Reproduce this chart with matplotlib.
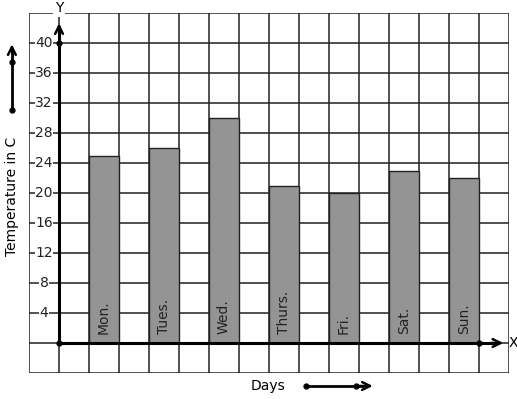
import matplotlib
matplotlib.use("Agg")
import matplotlib.pyplot as plt

days = ["Mon.", "Tues.", "Wed.", "Thurs.", "Fri.", "Sat.", "Sun."]
temps = [25, 26, 30, 21, 20, 23, 22]
yticks = [4, 8, 12, 16, 20, 24, 28, 32, 36, 40]

fig = plt.figure(figsize=(5.17, 3.99), dpi=100)
ax = fig.add_axes([29 / 517, 26 / 399, 480 / 517, 360 / 399])
ax.set_xlim(-1, 15)
ax.set_ylim(-4, 44)
ax.axis("off")

# graph paper grid
grid_kw = dict(color="#222222", lw=1.1, zorder=1)
for gx in range(-1, 16):
    ax.plot([gx, gx], [-4, 44], **grid_kw)
for gy in range(-4, 45, 4):
    ax.plot([-1, 15], [gy, gy], **grid_kw)

# bars: one every other cell
xs = [1 + 2 * i for i in range(len(days))]
ax.bar(xs, temps, width=1, align="edge", color="#949494",
       edgecolor="#222222", lw=1, zorder=2)
for x, d in zip(xs, days):
    ax.text(x + 0.5, 1.2, d, rotation=90, ha="center", va="bottom",
            fontsize=10, color="#222222", zorder=3)

# axes with arrows
ax.plot([0, 0], [0, 42.2], color="black", lw=2.2, zorder=4)
ax.plot([0, 14.6], [0, 0], color="black", lw=2.2, zorder=4)
ax.annotate("", xy=(0, 43), xytext=(0, 41), zorder=5,
            arrowprops=dict(arrowstyle="->", lw=1.8, color="black",
                            mutation_scale=14))
ax.annotate("", xy=(14.9, 0), xytext=(14.3, 0), zorder=5,
            arrowprops=dict(arrowstyle="->", lw=1.8, color="black",
                            mutation_scale=14))
ax.plot([0, 0, 14], [0, 40, 0], "o", color="black", ms=3.5, zorder=6)
ax.text(15.15, 0, "X", ha="center", va="center", fontsize=10, clip_on=False)
ax.text(0, 44.6, "Y", ha="center", va="center", fontsize=10, clip_on=False,
        bbox=dict(facecolor="white", edgecolor="none", pad=1), zorder=6)

# y tick labels sit on the grid lines
for t in yticks:
    ax.text(-0.5, t, str(t), ha="center", va="center", fontsize=10,
            color="#222222", zorder=5,
            bbox=dict(facecolor="white", edgecolor="none", pad=0.2))

# axis titles with little arrows
ax.text(-1.57, 19.5, "Temperature in C", rotation=90, ha="center",
        va="center", fontsize=10, clip_on=False)
ax.plot([-1.57, -1.57], [31.1, 39], color="black", lw=2, clip_on=False)
ax.annotate("", xy=(-1.57, 40.2), xytext=(-1.57, 38.5),
            arrowprops=dict(arrowstyle="->", lw=1.8, color="black",
                            mutation_scale=14), annotation_clip=False)
ax.plot([-1.57, -1.57], [31.1, 37.5], "o", color="black", ms=3.5,
        clip_on=False)

ax.text(6.97, -5.7, "Days", ha="center", va="center", fontsize=10,
        clip_on=False)
ax.plot([8.23, 10.1], [-5.73, -5.73], color="black", lw=2, clip_on=False)
ax.annotate("", xy=(10.55, -5.73), xytext=(9.9, -5.73),
            arrowprops=dict(arrowstyle="->", lw=1.8, color="black",
                            mutation_scale=14), annotation_clip=False)
ax.plot([8.23, 9.9], [-5.73, -5.73], "o", color="black", ms=3.5,
        clip_on=False)

plt.savefig("out.png", dpi=100)
